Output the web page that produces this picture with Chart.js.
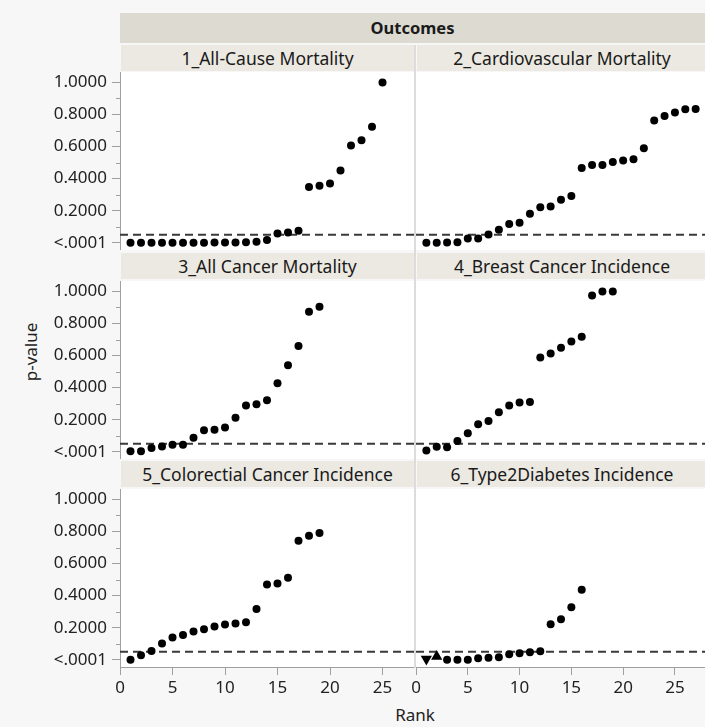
<!DOCTYPE html>
<html>
<head>
<meta charset="utf-8">
<script src="https://cdn.jsdelivr.net/npm/chart.js@4.4.1/dist/chart.umd.min.js"></script>
<style>
  body { margin: 0; background: #f7f7f7; overflow: hidden; font-family: "Noto Sans", sans-serif; }
  #wrap { position: relative; width: 705px; height: 727px; overflow: hidden; }
  #wrap canvas { position: absolute; }
  .hdr { position: absolute; background: #ebe9e1; color: #1a1a1a; font-size: 17.5px; text-align: center; white-space: nowrap; overflow: hidden; }
  .top { background: #dddbd1; font-weight: bold; font-size: 16.5px; }
  .lbl { position: absolute; color: #222; font-size: 17px; white-space: nowrap; }
  .div { position: absolute; background: #dcdcdc; }
</style>
</head>
<body>
<div id="wrap"></div>
<script>
// p-values sorted by rank, one list per outcome
const panelTitles = ['1_All-Cause Mortality', '2_Cardiovascular Mortality', '3_All Cancer Mortality',
                     '4_Breast Cancer Incidence', '5_Colorectial Cancer Incidence', '6_Type2Diabetes Incidence'];
const allCause   = [0, 0, 0, 0, 0, 0, 0, 0, 0.001, 0.001, 0.001, 0.003, 0.006, 0.017, 0.058, 0.064, 0.075,
                    0.348, 0.356, 0.369, 0.45, 0.606, 0.64, 0.723, 1.0];
const cardio     = [0, 0, 0.002, 0.004, 0.027, 0.027, 0.052, 0.081, 0.117, 0.125, 0.181, 0.221, 0.227, 0.269,
                    0.292, 0.467, 0.485, 0.485, 0.504, 0.513, 0.521, 0.59, 0.763, 0.79, 0.813, 0.833, 0.835];
const allCancer  = [0.004, 0.004, 0.023, 0.033, 0.044, 0.044, 0.088, 0.135, 0.138, 0.152, 0.213, 0.288, 0.296,
                    0.321, 0.427, 0.54, 0.66, 0.873, 0.904];
const breast     = [0.008, 0.031, 0.029, 0.067, 0.115, 0.171, 0.192, 0.246, 0.288, 0.308, 0.31, 0.588, 0.613,
                    0.648, 0.688, 0.717, 0.975, 1.0, 1.0];
const colorectal = [0, 0.028, 0.055, 0.101, 0.139, 0.155, 0.176, 0.19, 0.207, 0.22, 0.226, 0.234, 0.316, 0.47,
                    0.476, 0.511, 0.743, 0.774, 0.79];
const diabetes   = [0.005, 0.02, 0, 0, 0, 0.009, 0.013, 0.016, 0.034, 0.041, 0.047, 0.053, 0.222, 0.253, 0.328, 0.436];
const diabetesShapes = ['down', 'up']; // first ranks drawn as triangles, rest circles
const alpha = 0.05;
const xTicks = [0, 5, 10, 15, 20, 25];
const yTicks = [0, 0.2, 0.4, 0.6, 0.8, 1.0];
const yMinor = [0.1, 0.3, 0.5, 0.7, 0.9];

const series = [allCause, cardio, allCancer, breast, colorectal, diabetes];
const rowTops = [72, 281, 489];
const hdrTops = [45, 253, 461];
const plotH = 178;
const wrap = document.getElementById('wrap');

function addDiv(cls, text, css) {
    const d = document.createElement('div');
    d.className = cls;
    d.textContent = text;
    Object.assign(d.style, css);
    wrap.appendChild(d);
}

addDiv('hdr top', 'Outcomes', { left: '120px', top: '13px', width: '585px', height: '30px', lineHeight: '30px' });
addDiv('div', '', { left: '414px', top: '45px', width: '2px', height: '623px' });
addDiv('lbl', 'p-value', { left: '30px', top: '352px', transform: 'translate(-50%,-50%) rotate(-90deg)' });
addDiv('lbl', 'Rank', { left: '415px', top: '714px', transform: 'translate(-50%,-50%)' });

const plotBg = {
    id: 'plotBg',
    beforeDraw(chart) {
        const a = chart.chartArea, c = chart.ctx;
        c.save();
        c.fillStyle = '#ffffff';
        c.fillRect(a.left, a.top, a.right - a.left, a.bottom - a.top);
        c.restore();
    }
};

const minorTicks = {
    id: 'minorTicks',
    afterDraw(chart) {
        const y = chart.scales.y;
        if (!y.options.display) return;
        const c = chart.ctx, left = chart.chartArea.left;
        c.save();
        c.strokeStyle = '#a0a0a0';
        c.lineWidth = 1;
        yMinor.forEach(function (v) {
            const p = Math.round(y.getPixelForValue(v)) + 0.5;
            c.beginPath();
            c.moveTo(left - 4, p);
            c.lineTo(left, p);
            c.stroke();
        });
        c.restore();
    }
};

// keep chart.js from insetting the plot to make room for edge labels
function noPad(s) {
    s.paddingTop = 0; s.paddingBottom = 0; s.paddingLeft = 0; s.paddingRight = 0;
}

series.forEach(function (vals, i) {
    const row = Math.floor(i / 2), col = i % 2;
    const bottom = row === 2;

    addDiv('hdr', panelTitles[i], {
        left: col === 0 ? '121px' : '417px', top: hdrTops[row] + 'px',
        width: col === 0 ? '293px' : '290px', height: '26px', lineHeight: '26px'
    });

    const cv = document.createElement('canvas');
    const w = col === 0 ? 414 : 306;
    const h = plotH + (bottom ? 40 : 0);
    cv.width = w; cv.height = h;
    cv.style.left = (col === 0 ? 0 : 400) + 'px';
    cv.style.top = rowTops[row] + 'px';
    wrap.appendChild(cv);

    const pts = vals.map(function (v, k) { return { x: k + 1, y: v }; });
    const isT2D = i === 5;
    const shape = function (k) { return isT2D ? diabetesShapes[k] : undefined; };

    new Chart(cv.getContext('2d'), {
        type: 'scatter',
        data: {
            datasets: [{
                data: pts,
                backgroundColor: '#000',
                borderWidth: 0,
                pointStyle: pts.map(function (p, k) { return shape(k) ? 'triangle' : 'circle'; }),
                rotation: pts.map(function (p, k) { return shape(k) === 'down' ? 180 : 0; }),
                pointRadius: pts.map(function (p, k) { return shape(k) ? 6.5 : 4; })
            }, {
                data: [{ x: 0, y: alpha }, { x: 28, y: alpha }],
                showLine: true,
                borderColor: '#3a3a3a',
                borderWidth: 2,
                borderDash: [8, 5],
                pointRadius: 0
            }]
        },
        options: {
            responsive: false,
            animation: false,
            events: [],
            layout: { autoPadding: false, padding: { left: col === 0 ? 0 : 16 } },
            plugins: { legend: { display: false }, tooltip: { enabled: false } },
            scales: {
                x: {
                    type: 'linear', min: 0, max: 28,
                    display: bottom,
                    afterBuildTicks: function (s) { s.ticks = xTicks.map(function (v) { return { value: v }; }); },
                    afterFit: function (s) { noPad(s); if (bottom) s.height = 40; },
                    grid: { drawOnChartArea: false, tickLength: 8, color: '#a0a0a0' },
                    border: { color: '#a0a0a0' },
                    ticks: { color: '#222', padding: 3, font: { family: 'Noto Sans', size: 17 }, maxRotation: 0 }
                },
                y: {
                    type: 'linear', min: -0.045, max: 1.065,
                    display: col === 0,
                    afterBuildTicks: function (s) { s.ticks = yTicks.map(function (v) { return { value: v }; }); },
                    afterFit: function (s) { noPad(s); if (col === 0) s.width = 120; },
                    grid: { drawOnChartArea: false, tickLength: 8, color: '#a0a0a0' },
                    border: { color: '#a0a0a0' },
                    ticks: {
                        color: '#222', padding: 5, font: { family: 'Noto Sans', size: 17 },
                        callback: function (v) { return v === 0 ? '<.0001' : v.toFixed(4); }
                    }
                }
            }
        },
        plugins: [plotBg, minorTicks]
    });
});
</script>
</body>
</html>
